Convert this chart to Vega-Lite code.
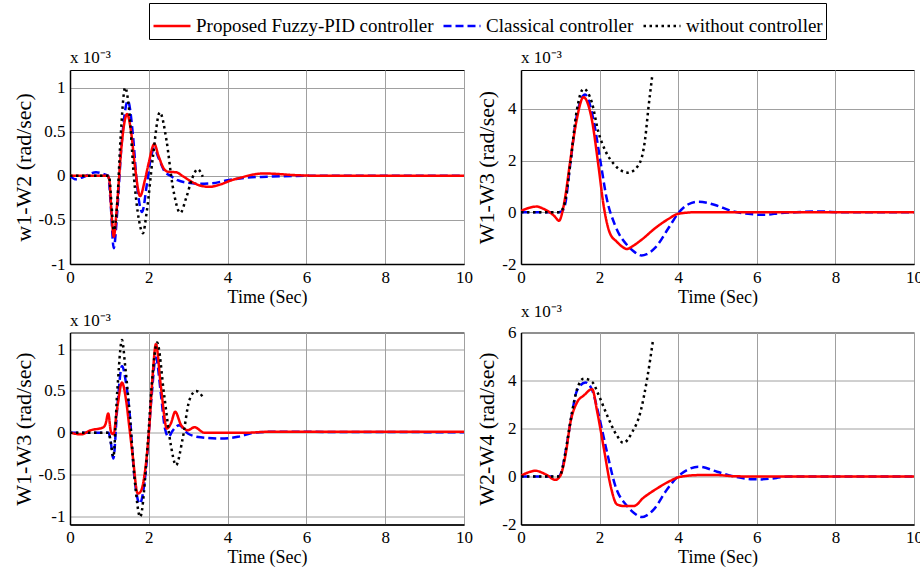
{
  "$schema": "https://vega.github.io/schema/vega-lite/v6.json",
  "padding": {"left": 11, "top": 2, "right": 0, "bottom": 0},
  "background": "white",
  "datasets": {
    "p1": [
      {"s":"C","t":0,"v":0},{"s":"C","t":0.15,"v":-0.04},{"s":"C","t":0.35,"v":-0.01},{"s":"C","t":0.66,"v":0.04},{"s":"C","t":0.85,"v":0.02},{"s":"C","t":0.97,"v":0},{"s":"C","t":1.03,"v":-0.3},{"s":"C","t":1.11,"v":-0.82},{"s":"C","t":1.2,"v":-0.4},{"s":"C","t":1.3,"v":0.3},{"s":"C","t":1.47,"v":0.85},{"s":"C","t":1.6,"v":0.45},{"s":"C","t":1.7,"v":-0.1},{"s":"C","t":1.83,"v":-0.41},{"s":"C","t":1.95,"v":-0.1},{"s":"C","t":2.05,"v":0.2},{"s":"C","t":2.14,"v":0.31},{"s":"C","t":2.25,"v":0.2},{"s":"C","t":2.4,"v":0.05},{"s":"C","t":2.55,"v":0},{"s":"C","t":2.73,"v":-0.05},{"s":"C","t":3.0,"v":-0.08},{"s":"C","t":3.3,"v":-0.09},{"s":"C","t":3.6,"v":-0.085},{"s":"C","t":4.0,"v":-0.05},{"s":"C","t":4.5,"v":-0.02},{"s":"C","t":5.0,"v":-0.01},{"s":"C","t":6.0,"v":0},{"s":"C","t":10,"v":0},
      {"s":"F","t":0,"v":0},{"s":"F","t":0.5,"v":0},{"s":"F","t":0.95,"v":0},{"s":"F","t":1.0,"v":-0.05},{"s":"F","t":1.05,"v":-0.4},{"s":"F","t":1.11,"v":-0.69},{"s":"F","t":1.2,"v":-0.3},{"s":"F","t":1.3,"v":0.3},{"s":"F","t":1.45,"v":0.7},{"s":"F","t":1.55,"v":0.5},{"s":"F","t":1.65,"v":0.1},{"s":"F","t":1.78,"v":-0.23},{"s":"F","t":1.9,"v":-0.05},{"s":"F","t":2.0,"v":0.15},{"s":"F","t":2.14,"v":0.36},{"s":"F","t":2.25,"v":0.22},{"s":"F","t":2.4,"v":0.07},{"s":"F","t":2.5,"v":0.045},{"s":"F","t":2.7,"v":0.04},{"s":"F","t":2.85,"v":0},{"s":"F","t":3.1,"v":-0.07},{"s":"F","t":3.3,"v":-0.11},{"s":"F","t":3.54,"v":-0.125},{"s":"F","t":3.8,"v":-0.1},{"s":"F","t":4.1,"v":-0.05},{"s":"F","t":4.34,"v":-0.02},{"s":"F","t":4.6,"v":0.01},{"s":"F","t":4.93,"v":0.027},{"s":"F","t":5.3,"v":0.02},{"s":"F","t":5.7,"v":0.008},{"s":"F","t":6.5,"v":0},{"s":"F","t":10,"v":0},
      {"s":"N","t":0,"v":0},{"s":"N","t":0.99,"v":0},{"s":"N","t":1.05,"v":-0.3},{"s":"N","t":1.11,"v":-0.62},{"s":"N","t":1.2,"v":-0.3},{"s":"N","t":1.28,"v":0.4},{"s":"N","t":1.4,"v":1.0},{"s":"N","t":1.5,"v":0.75},{"s":"N","t":1.62,"v":0},{"s":"N","t":1.75,"v":-0.5},{"s":"N","t":1.85,"v":-0.65},{"s":"N","t":1.95,"v":-0.4},{"s":"N","t":2.1,"v":0.2},{"s":"N","t":2.28,"v":0.72},{"s":"N","t":2.45,"v":0.4},{"s":"N","t":2.6,"v":-0.1},{"s":"N","t":2.8,"v":-0.42},{"s":"N","t":2.95,"v":-0.25},{"s":"N","t":3.1,"v":-0.03},{"s":"N","t":3.24,"v":0.075},{"s":"N","t":3.37,"v":-0.01}
    ],
    "p2": [
      {"s":"C","t":0,"v":0},{"s":"C","t":0.95,"v":0},{"s":"C","t":1.05,"v":0.05},{"s":"C","t":1.12,"v":0.28},{"s":"C","t":1.25,"v":1.82},{"s":"C","t":1.42,"v":3.74},{"s":"C","t":1.63,"v":4.55},{"s":"C","t":1.84,"v":3.6},{"s":"C","t":2.01,"v":2.08},{"s":"C","t":2.18,"v":0.54},{"s":"C","t":2.39,"v":-0.49},{"s":"C","t":2.73,"v":-1.32},{"s":"C","t":2.9,"v":-1.55},{"s":"C","t":3.07,"v":-1.67},{"s":"C","t":3.2,"v":-1.62},{"s":"C","t":3.41,"v":-1.38},{"s":"C","t":3.75,"v":-0.62},{"s":"C","t":4.0,"v":-0.04},{"s":"C","t":4.26,"v":0.31},{"s":"C","t":4.51,"v":0.41},{"s":"C","t":4.94,"v":0.28},{"s":"C","t":5.36,"v":0.05},{"s":"C","t":5.78,"v":-0.06},{"s":"C","t":6.2,"v":-0.1},{"s":"C","t":6.6,"v":-0.03},{"s":"C","t":7.0,"v":0},{"s":"C","t":7.6,"v":0.03},{"s":"C","t":8.2,"v":0},{"s":"C","t":10,"v":0},
      {"s":"F","t":0,"v":0.05},{"s":"F","t":0.2,"v":0.17},{"s":"F","t":0.4,"v":0.22},{"s":"F","t":0.55,"v":0.15},{"s":"F","t":0.7,"v":0.03},{"s":"F","t":0.85,"v":-0.15},{"s":"F","t":0.97,"v":-0.33},{"s":"F","t":1.05,"v":0},{"s":"F","t":1.12,"v":0.54},{"s":"F","t":1.25,"v":1.95},{"s":"F","t":1.42,"v":3.6},{"s":"F","t":1.59,"v":4.45},{"s":"F","t":1.8,"v":3.6},{"s":"F","t":1.97,"v":1.8},{"s":"F","t":2.1,"v":0.28},{"s":"F","t":2.26,"v":-0.8},{"s":"F","t":2.43,"v":-1.13},{"s":"F","t":2.55,"v":-1.3},{"s":"F","t":2.69,"v":-1.42},{"s":"F","t":2.85,"v":-1.3},{"s":"F","t":3.07,"v":-1.06},{"s":"F","t":3.41,"v":-0.62},{"s":"F","t":3.75,"v":-0.26},{"s":"F","t":4.0,"v":-0.06},{"s":"F","t":4.43,"v":0},{"s":"F","t":10,"v":0},
      {"s":"N","t":0,"v":0},{"s":"N","t":0.99,"v":0},{"s":"N","t":1.05,"v":0.1},{"s":"N","t":1.12,"v":0.4},{"s":"N","t":1.25,"v":1.82},{"s":"N","t":1.42,"v":3.94},{"s":"N","t":1.59,"v":4.77},{"s":"N","t":1.8,"v":4.26},{"s":"N","t":1.97,"v":3.1},{"s":"N","t":2.14,"v":2.4},{"s":"N","t":2.39,"v":1.82},{"s":"N","t":2.73,"v":1.53},{"s":"N","t":2.99,"v":1.82},{"s":"N","t":3.16,"v":2.85},{"s":"N","t":3.24,"v":4.0},{"s":"N","t":3.34,"v":5.28}
    ],
    "p3": [
      {"s":"C","t":0,"v":0},{"s":"C","t":0.98,"v":0},{"s":"C","t":1.03,"v":-0.1},{"s":"C","t":1.1,"v":-0.31},{"s":"C","t":1.2,"v":0.3},{"s":"C","t":1.32,"v":0.8},{"s":"C","t":1.42,"v":0.6},{"s":"C","t":1.51,"v":0.25},{"s":"C","t":1.63,"v":-0.51},{"s":"C","t":1.77,"v":-0.85},{"s":"C","t":1.93,"v":-0.43},{"s":"C","t":2.06,"v":0.37},{"s":"C","t":2.18,"v":0.9},{"s":"C","t":2.31,"v":0.45},{"s":"C","t":2.41,"v":0.05},{"s":"C","t":2.5,"v":-0.05},{"s":"C","t":2.6,"v":0.02},{"s":"C","t":2.77,"v":0.09},{"s":"C","t":2.99,"v":-0.01},{"s":"C","t":3.32,"v":-0.056},{"s":"C","t":3.83,"v":-0.07},{"s":"C","t":4.26,"v":-0.05},{"s":"C","t":4.68,"v":0},{"s":"C","t":5.0,"v":0.01},{"s":"C","t":10,"v":0.005},
      {"s":"F","t":0,"v":0},{"s":"F","t":0.28,"v":-0.02},{"s":"F","t":0.53,"v":0.03},{"s":"F","t":0.83,"v":0.06},{"s":"F","t":0.9,"v":0.1},{"s":"F","t":0.97,"v":0.23},{"s":"F","t":1.04,"v":0.01},{"s":"F","t":1.1,"v":-0.02},{"s":"F","t":1.2,"v":0.3},{"s":"F","t":1.32,"v":0.6},{"s":"F","t":1.42,"v":0.4},{"s":"F","t":1.51,"v":0.05},{"s":"F","t":1.59,"v":-0.27},{"s":"F","t":1.72,"v":-0.73},{"s":"F","t":1.8,"v":-0.7},{"s":"F","t":1.89,"v":-0.51},{"s":"F","t":2.01,"v":0.05},{"s":"F","t":2.1,"v":0.7},{"s":"F","t":2.18,"v":1.06},{"s":"F","t":2.31,"v":0.54},{"s":"F","t":2.46,"v":0.05},{"s":"F","t":2.56,"v":0.11},{"s":"F","t":2.67,"v":0.25},{"s":"F","t":2.82,"v":0.09},{"s":"F","t":2.99,"v":0.03},{"s":"F","t":3.16,"v":0.065},{"s":"F","t":3.41,"v":0},{"s":"F","t":4.5,"v":0},{"s":"F","t":5.0,"v":0.01},{"s":"F","t":10,"v":0.01},
      {"s":"N","t":0,"v":0},{"s":"N","t":0.98,"v":0},{"s":"N","t":1.03,"v":-0.1},{"s":"N","t":1.1,"v":-0.29},{"s":"N","t":1.2,"v":0.5},{"s":"N","t":1.32,"v":1.11},{"s":"N","t":1.4,"v":0.8},{"s":"N","t":1.51,"v":0.25},{"s":"N","t":1.65,"v":-0.6},{"s":"N","t":1.78,"v":-1.01},{"s":"N","t":1.97,"v":-0.15},{"s":"N","t":2.08,"v":0.6},{"s":"N","t":2.21,"v":1.08},{"s":"N","t":2.39,"v":0.45},{"s":"N","t":2.56,"v":-0.15},{"s":"N","t":2.69,"v":-0.39},{"s":"N","t":2.86,"v":-0.07},{"s":"N","t":3.03,"v":0.39},{"s":"N","t":3.2,"v":0.5},{"s":"N","t":3.37,"v":0.43}
    ],
    "p4": [
      {"s":"C","t":0,"v":0},{"s":"C","t":0.95,"v":0},{"s":"C","t":1.03,"v":0.2},{"s":"C","t":1.13,"v":1.0},{"s":"C","t":1.26,"v":2.27},{"s":"C","t":1.43,"v":3.6},{"s":"C","t":1.64,"v":3.92},{"s":"C","t":1.81,"v":3.6},{"s":"C","t":1.98,"v":2.55},{"s":"C","t":2.19,"v":1.0},{"s":"C","t":2.4,"v":-0.39},{"s":"C","t":2.7,"v":-1.23},{"s":"C","t":2.9,"v":-1.55},{"s":"C","t":3.08,"v":-1.69},{"s":"C","t":3.2,"v":-1.62},{"s":"C","t":3.38,"v":-1.37},{"s":"C","t":3.72,"v":-0.53},{"s":"C","t":3.97,"v":-0.04},{"s":"C","t":4.23,"v":0.27},{"s":"C","t":4.52,"v":0.41},{"s":"C","t":4.99,"v":0.2},{"s":"C","t":5.42,"v":0},{"s":"C","t":5.84,"v":-0.11},{"s":"C","t":6.1,"v":-0.12},{"s":"C","t":6.5,"v":-0.06},{"s":"C","t":6.8,"v":0},{"s":"C","t":10,"v":0},
      {"s":"F","t":0,"v":0.03},{"s":"F","t":0.2,"v":0.18},{"s":"F","t":0.37,"v":0.24},{"s":"F","t":0.55,"v":0.15},{"s":"F","t":0.66,"v":0.06},{"s":"F","t":0.87,"v":-0.14},{"s":"F","t":1.0,"v":0.03},{"s":"F","t":1.13,"v":0.87},{"s":"F","t":1.26,"v":2.27},{"s":"F","t":1.43,"v":3.1},{"s":"F","t":1.6,"v":3.38},{"s":"F","t":1.81,"v":3.64},{"s":"F","t":1.94,"v":2.69},{"s":"F","t":2.11,"v":1.15},{"s":"F","t":2.28,"v":-0.39},{"s":"F","t":2.44,"v":-1.16},{"s":"F","t":2.61,"v":-1.23},{"s":"F","t":2.87,"v":-1.23},{"s":"F","t":3.12,"v":-0.88},{"s":"F","t":3.46,"v":-0.5},{"s":"F","t":3.8,"v":-0.18},{"s":"F","t":4.06,"v":-0.01},{"s":"F","t":4.57,"v":0.06},{"s":"F","t":4.99,"v":0.06},{"s":"F","t":5.42,"v":0.01},{"s":"F","t":6,"v":0},{"s":"F","t":10,"v":0},
      {"s":"N","t":0,"v":0},{"s":"N","t":0.98,"v":0},{"s":"N","t":1.05,"v":0.3},{"s":"N","t":1.13,"v":1.0},{"s":"N","t":1.3,"v":2.69},{"s":"N","t":1.43,"v":3.66},{"s":"N","t":1.6,"v":4.08},{"s":"N","t":1.81,"v":3.94},{"s":"N","t":1.98,"v":3.38},{"s":"N","t":2.19,"v":2.55},{"s":"N","t":2.44,"v":1.71},{"s":"N","t":2.6,"v":1.4},{"s":"N","t":2.83,"v":1.85},{"s":"N","t":3.04,"v":2.69},{"s":"N","t":3.21,"v":4.08},{"s":"N","t":3.36,"v":5.69}
    ]
  },
  "bounds": "flush",
  "columns": 2,
  "spacing": {"row": 68.5, "column": 57},
  "concat": [
    {
      "width": 394, "height": 194,
      "title": "x 10⁻³",
      "data": {"name": "p1"},
      "mark": {"type": "line", "strokeWidth": 2.5, "interpolate": "monotone", "clip": true},
      "encoding": {
        "x": {"field": "t", "type": "quantitative", "scale": {"domain": [0, 10], "nice": false}, "axis": {"title": "Time (Sec)", "values": [0, 2, 4, 6, 8, 10]}},
        "y": {"field": "v", "type": "quantitative", "scale": {"domain": [-1, 1.2], "nice": false, "zero": false}, "axis": {"title": "w1-W2 (rad/sec)", "values": [-1, -0.5, 0, 0.5, 1]}},
        "color": {"field": "s", "type": "nominal", "scale": {"domain": ["F", "C", "N"], "range": ["#ff0000", "#0000ff", "#000000"]}, "legend": {"labelExpr": "datum.value == 'F' ? 'Proposed Fuzzy-PID controller' : datum.value == 'C' ? 'Classical controller' : 'without controller'"}},
        "strokeDash": {"field": "s", "type": "nominal", "scale": {"domain": ["F", "C", "N"], "range": [[1, 0], [8, 4], [2.5, 3.5]]}, "legend": {"labelExpr": "datum.value == 'F' ? 'Proposed Fuzzy-PID controller' : datum.value == 'C' ? 'Classical controller' : 'without controller'"}}
      }
    },
    {
      "width": 393, "height": 194,
      "title": "x 10⁻³",
      "data": {"name": "p2"},
      "mark": {"type": "line", "strokeWidth": 2.5, "interpolate": "monotone", "clip": true},
      "encoding": {
        "x": {"field": "t", "type": "quantitative", "scale": {"domain": [0, 10], "nice": false}, "axis": {"title": "Time (Sec)", "values": [0, 2, 4, 6, 8, 10]}},
        "y": {"field": "v", "type": "quantitative", "scale": {"domain": [-2, 5.5], "nice": false, "zero": false}, "axis": {"title": "W1-W3 (rad/sec)", "values": [-2, 0, 2, 4]}},
        "color": {"field": "s", "type": "nominal", "scale": {"domain": ["F", "C", "N"], "range": ["#ff0000", "#0000ff", "#000000"]}, "legend": {"labelExpr": "datum.value == 'F' ? 'Proposed Fuzzy-PID controller' : datum.value == 'C' ? 'Classical controller' : 'without controller'"}},
        "strokeDash": {"field": "s", "type": "nominal", "scale": {"domain": ["F", "C", "N"], "range": [[1, 0], [8, 4], [2.5, 3.5]]}, "legend": {"labelExpr": "datum.value == 'F' ? 'Proposed Fuzzy-PID controller' : datum.value == 'C' ? 'Classical controller' : 'without controller'"}}
      }
    },
    {
      "width": 394, "height": 192,
      "title": "x 10⁻³",
      "data": {"name": "p3"},
      "mark": {"type": "line", "strokeWidth": 2.5, "interpolate": "monotone", "clip": true},
      "encoding": {
        "x": {"field": "t", "type": "quantitative", "scale": {"domain": [0, 10], "nice": false}, "axis": {"title": "Time (Sec)", "values": [0, 2, 4, 6, 8, 10]}},
        "y": {"field": "v", "type": "quantitative", "scale": {"domain": [-1.1, 1.2], "nice": false, "zero": false}, "axis": {"title": "W1-W3 (rad/sec)", "values": [-1, -0.5, 0, 0.5, 1]}},
        "color": {"field": "s", "type": "nominal", "scale": {"domain": ["F", "C", "N"], "range": ["#ff0000", "#0000ff", "#000000"]}, "legend": {"labelExpr": "datum.value == 'F' ? 'Proposed Fuzzy-PID controller' : datum.value == 'C' ? 'Classical controller' : 'without controller'"}},
        "strokeDash": {"field": "s", "type": "nominal", "scale": {"domain": ["F", "C", "N"], "range": [[1, 0], [8, 4], [2.5, 3.5]]}, "legend": {"labelExpr": "datum.value == 'F' ? 'Proposed Fuzzy-PID controller' : datum.value == 'C' ? 'Classical controller' : 'without controller'"}}
      }
    },
    {
      "width": 393, "height": 192,
      "title": "x 10⁻³",
      "data": {"name": "p4"},
      "mark": {"type": "line", "strokeWidth": 2.5, "interpolate": "monotone", "clip": true},
      "encoding": {
        "x": {"field": "t", "type": "quantitative", "scale": {"domain": [0, 10], "nice": false}, "axis": {"title": "Time (Sec)", "values": [0, 2, 4, 6, 8, 10]}},
        "y": {"field": "v", "type": "quantitative", "scale": {"domain": [-2, 6], "nice": false, "zero": false}, "axis": {"title": "W2-W4 (rad/sec)", "values": [-2, 0, 2, 4, 6]}},
        "color": {"field": "s", "type": "nominal", "scale": {"domain": ["F", "C", "N"], "range": ["#ff0000", "#0000ff", "#000000"]}, "legend": {"labelExpr": "datum.value == 'F' ? 'Proposed Fuzzy-PID controller' : datum.value == 'C' ? 'Classical controller' : 'without controller'"}},
        "strokeDash": {"field": "s", "type": "nominal", "scale": {"domain": ["F", "C", "N"], "range": [[1, 0], [8, 4], [2.5, 3.5]]}, "legend": {"labelExpr": "datum.value == 'F' ? 'Proposed Fuzzy-PID controller' : datum.value == 'C' ? 'Classical controller' : 'without controller'"}}
      }
    }
  ],
  "config": {
    "font": "Liberation Serif",
    "view": {"stroke": "black", "strokeWidth": 1},
    "axis": {
      "domainColor": "black", "domainWidth": 1.5, "ticks": false,
      "gridColor": "#a0a0a0", "gridWidth": 1,
      "labelFont": "Liberation Serif", "labelFontSize": 17, "labelColor": "black", "labelPadding": 5, "labelFlush": false, "labelOverlap": false,
      "labelExpr": "'' + datum.value",
      "titleFont": "Liberation Serif", "titleFontSize": 18, "titleFontWeight": "normal", "titleColor": "black"
    },
    "axisX": {"titlePadding": 3},
    "axisY": {"titleFontSize": 22, "titlePadding": 3},
    "title": {"font": "Liberation Serif", "fontSize": 17, "fontWeight": "normal", "anchor": "start", "frame": "group", "offset": 3, "color": "black"},
    "legend": {
      "orient": "none", "legendX": 79, "legendY": -67, "direction": "horizontal", "title": null,
      "strokeColor": "black", "fillColor": "white", "padding": 3, "cornerRadius": 0,
      "labelFont": "Liberation Serif", "labelFontSize": 19, "labelColor": "black", "labelLimit": 400,
      "symbolType": "stroke", "symbolSize": 1369, "symbolStrokeWidth": 2.5, "columnPadding": 4, "labelOffset": 4
    }
  }
}
